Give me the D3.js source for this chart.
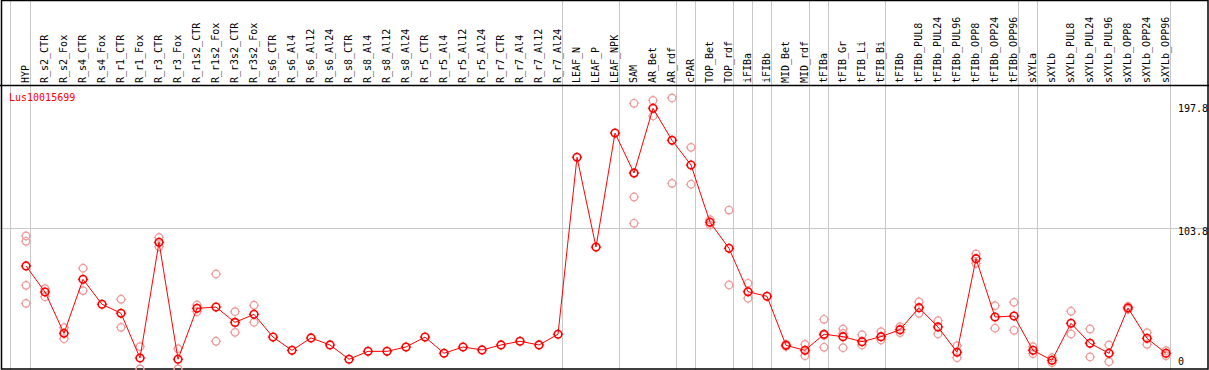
<!DOCTYPE html>
<html>
<head>
<meta charset="utf-8">
<script src="https://cdn.jsdelivr.net/npm/d3@7.9.0/dist/d3.min.js"></script>
<style>
  body { margin: 0; background: #fff; }
  svg { display: block; }
  text { font-family: "DejaVu Sans Mono", monospace; font-size: 10px; }
</style>
</head>
<body>
<svg id="chart" width="1209" height="370"></svg>
<script>
// **Categories (samples)**
const categories = [
  "HYP", "R_s2_CTR", "R_s2_Fox", "R_s4_CTR", "R_s4_Fox", "R_r1_CTR", "R_r1_Fox",
  "R_r3_CTR", "R_r3_Fox", "R_r1s2_CTR", "R_r1s2_Fox", "R_r3s2_CTR", "R_r3s2_Fox",
  "R_s6_CTR", "R_s6_Al4", "R_s6_Al12", "R_s6_Al24", "R_s8_CTR", "R_s8_Al4",
  "R_s8_Al12", "R_s8_Al24", "R_r5_CTR", "R_r5_Al4", "R_r5_Al12", "R_r5_Al24",
  "R_r7_CTR", "R_r7_Al4", "R_r7_Al12", "R_r7_Al24", "LEAF_N", "LEAF_P", "LEAF_NPK",
  "SAM", "AR_Bet", "AR_rdf", "cPAR", "TOP_Bet", "TOP_rdf", "iFIBa", "iFIBb",
  "MID_Bet", "MID_rdf", "tFIBa", "tFIB_Gr", "tFIB_Li", "tFIB_Bi", "tFIBb",
  "tFIBb_PUL8", "tFIBb_PUL24", "tFIBb_PUL96", "tFIBb_OPP8", "tFIBb_OPP24", "tFIBb_OPP96",
  "sXYLa", "sXYLb", "sXYLb_PUL8", "sXYLb_PUL24", "sXYLb_PUL96", "sXYLb_OPP8",
  "sXYLb_OPP24", "sXYLb_OPP96"
];

// **Mean expression per sample**
const means = [
  74.3, 53.9, 21.5, 63.8, 44.3, 37.2, 2.2, 92.8, 1.2, 41.1, 42.1, 30.1, 36.4,
  18.6, 8.2, 17.9, 12.4, 1.2, 7.4, 7.4, 10.8, 18.6, 5.9, 10.8, 8.5,
  12.4, 15.3, 12.4, 20.8, 159.4, 89.1, 178.4,
  147.1, 197.8, 172.7, 153.4, 108.5, 88.1, 54.1, 50.5,
  12.1, 8.2, 20.8, 18.9, 15.0, 18.9, 24.4,
  41.6, 26.5, 6.7, 80.0, 34.3, 35.1,
  8.2, 0.4, 29.4, 13.7, 5.9, 41.4, 17.6, 5.9
];

// **Replicate values per sample (empty where none show)**
const replicates = [
  [97.8, 93.6, 59.1, 45.0], [56.5, 50.2], [25.9, 17.3], [72.5, 55.0], [], [48.2, 26.2], [11.1, -6.4],
  [96.7, 89.4], [9.5, -6.4], [43.7, 38.5], [68.0, 15.3], [38.5, 22.3], [43.5, 30.2],
  [], [], [], [], [], [], [], [], [], [], [], [],
  [], [], [], [], [], [], [],
  [201.7, 147.1, 128.3, 107.7], [204.0, 191.8], [205.9, 139.0], [167.2, 138.3], [110.5, 106.5], [118.1, 59.4], [60.7, 49.0], [],
  [12.9, 11.3], [12.9, 4.0], [32.5, 20.0, 10.6], [24.9, 21.5, 10.3], [20.4, 12.4], [22.8, 16.3], [26.7, 22.1],
  [46.1, 37.2], [31.4, 21.0], [11.8, 2.4], [83.7, 76.4], [43.2, 25.5], [45.8, 23.9],
  [11.0, 5.6], [2.4, -1.5], [38.8, 21.0], [24.9, 3.0], [12.4, -0.7], [42.6, 40.2], [22.0, 12.9], [7.9, 4.0]
];

// **Group separators (vertical grid after these samples)**
const groupEnds = ["HYP", "R_r7_Al24", "LEAF_NPK", "AR_rdf", "cPAR", "TOP_rdf", "iFIBa",
  "iFIBb", "MID_rdf", "tFIBa", "tFIB_Bi", "tFIBb_OPP96", "sXYLa", "sXYLb_OPP96"];

// **Y tick labels**
const yTicks = [197.8, 103.8, 0];
const yGrid = [103.8];
const geneName = "Lus10015699";

const W = 1209, H = 370, headerH = 85;
const svg = d3.select("#chart");

const x = d3.scalePoint().domain(categories).range([26, 1166]);
const y = d3.scaleLinear().domain([0, 197.8]).range([360.8, 108.3]);

const gridColor = "#c8c8c8";

// vertical separators, through header and plot
const sepX = [x(categories[0]) - 16].concat(groupEnds.map(c => x(c) + 4));
svg.selectAll("line.vgrid").data(sepX).join("line")
  .attr("class", "vgrid")
  .attr("x1", d => d).attr("x2", d => d)
  .attr("y1", 0).attr("y2", H)
  .attr("stroke", gridColor).attr("stroke-width", 1)
  .attr("shape-rendering", "crispEdges");

// horizontal grid
svg.selectAll("line.hgrid").data(yGrid).join("line")
  .attr("class", "hgrid")
  .attr("x1", 0).attr("x2", W)
  .attr("y1", d => Math.round(y(d)) + 0.5).attr("y2", d => Math.round(y(d)) + 0.5)
  .attr("stroke", gridColor);

// frame + header line
svg.append("rect").attr("x", 1.5).attr("y", 0.5).attr("width", W - 2.5).attr("height", H - 1.5)
  .attr("fill", "none").attr("stroke", "#000").attr("stroke-width", 1.5);
svg.append("line").attr("x1", 0).attr("x2", W).attr("y1", headerH + 0.5).attr("y2", headerH + 0.5)
  .attr("stroke", "#000").attr("stroke-width", 1.5);

// rotated sample labels
svg.selectAll("text.cat").data(categories).join("text")
  .attr("class", "cat")
  .attr("transform", d => `translate(${x(d) + 3},${headerH - 2}) rotate(-90)`)
  .attr("fill", "#000")
  .text(d => d);

// gene name
svg.append("text").attr("x", 9).attr("y", 101).attr("fill", "#ff0000").text(geneName);

// y labels on the right
svg.selectAll("text.ytick").data(yTicks).join("text")
  .attr("class", "ytick")
  .attr("x", 1178)
  .attr("y", d => y(d) + (d === 103.8 ? 7 : 4))
  .attr("fill", "#000")
  .text(d => d);

// marker: circle with little nubs
function marker(g, color, sw) {
  g.append("circle").attr("r", 3.8).attr("fill", "none").attr("stroke", color).attr("stroke-width", sw);
  g.append("path").attr("d", "M0,-5.2V-3.2M0,3.2V5.2M-5.2,0H-3.2M3.2,0H5.2")
    .attr("stroke", color).attr("stroke-width", 1);
}

// replicate points
const repData = [];
replicates.forEach((vals, i) => vals.forEach(v => repData.push({ c: categories[i], v })));
svg.selectAll("g.rep").data(repData).join("g")
  .attr("class", "rep")
  .attr("transform", d => `translate(${x(d.c)},${y(d.v)})`)
  .each(function () { marker(d3.select(this), "#f09a9a", 1.2); });

// mean line
const line = d3.line().x((d, i) => x(categories[i])).y(d => y(d));
svg.append("path").datum(means).attr("d", line)
  .attr("fill", "none").attr("stroke", "#ff0000").attr("stroke-width", 1);

// mean points
svg.selectAll("g.mean").data(means).join("g")
  .attr("class", "mean")
  .attr("transform", (d, i) => `translate(${x(categories[i])},${y(d)})`)
  .each(function () { marker(d3.select(this), "#ff0000", 1.6); });
</script>
</body>
</html>
